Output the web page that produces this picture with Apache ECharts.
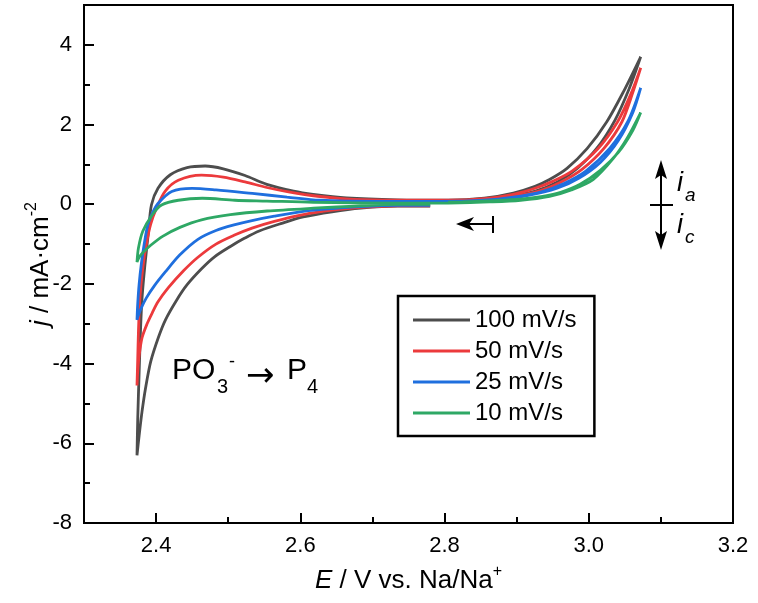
<!DOCTYPE html>
<html>
<head>
<meta charset="utf-8">
<script src="https://cdn.jsdelivr.net/npm/echarts@6/dist/echarts.min.js"></script>
<style>
html, body { margin: 0; padding: 0; background: #fff; }
#chart { width: 758px; height: 603px; }
</style>
</head>
<body>
<div id="chart"></div>
<script>
// scan rates (legend order)
const seriesNames = ['100 mV/s', '50 mV/s', '25 mV/s', '10 mV/s']
const seriesColors = ['#4d4d4d', '#ec3a3c', '#1f6fde', '#2ea865']

// CV loops in scan order: ~2.78 V -> cathodic vertex -> anodic vertex -> back
// E in V vs. Na/Na+, j in mA/cm2
const E100 = [2.780, 2.735, 2.684, 2.644, 2.604, 2.574, 2.543, 2.523, 2.503, 2.481, 2.463, 2.443, 2.428, 2.413, 2.403, 2.3925, 2.3855, 2.3805, 2.3765, 2.3735,
  2.3745, 2.3765, 2.3785, 2.3805, 2.3845, 2.3895, 2.3935, 2.4026, 2.4197, 2.4429, 2.468, 2.4932, 2.5233, 2.5535, 2.5907, 2.6178, 2.6641, 2.7345, 2.8049, 2.8551, 2.8954, 2.9255, 2.9456, 2.9698, 2.9979, 3.025, 3.048, 3.072,
  3.056, 3.036, 3.011, 2.984, 2.956, 2.926, 2.885, 2.845, 2.805]
const J100 = [-0.05, -0.05, -0.1, -0.19, -0.32, -0.48, -0.67, -0.85, -1.06, -1.32, -1.62, -2.02, -2.42, -2.9, -3.35, -3.95, -4.6, -5.2, -5.8, -6.3,
  -5.4, -4.2, -3.1, -2.35, -1.52, -0.68, -0.02, 0.4, 0.74, 0.92, 0.96, 0.89, 0.72, 0.5, 0.33, 0.25, 0.16, 0.11, 0.1, 0.15, 0.28, 0.45, 0.62, 0.9, 1.4, 2.07, 2.82, 3.7,
  2.9, 2.1, 1.4, 0.9, 0.55, 0.33, 0.18, 0.1, 0.06]

const E50 = [2.780, 2.735, 2.684, 2.644, 2.604, 2.564, 2.533, 2.508, 2.483, 2.458, 2.438, 2.4167, 2.4026, 2.3945, 2.3875, 2.3805, 2.3765, 2.3745, 2.3735,
  2.3745, 2.3755, 2.3775, 2.3815, 2.3865, 2.3925, 2.4005, 2.4127, 2.4308, 2.463, 2.4932, 2.5233, 2.5535, 2.5836, 2.6238, 2.6741, 2.7345, 2.8049, 2.8551, 2.8954, 2.9255, 2.9507, 2.9768, 3.013, 3.040, 3.058, 3.072,
  3.061, 3.046, 3.021, 2.991, 2.961, 2.931, 2.890, 2.850, 2.805]
const J50 = [-0.04, -0.04, -0.08, -0.15, -0.26, -0.43, -0.6, -0.78, -1.0, -1.33, -1.67, -2.1, -2.45, -2.73, -3.0, -3.35, -3.8, -4.2, -4.55,
  -3.9, -3.2, -2.35, -1.6, -1.0, -0.5, -0.1, 0.33, 0.6, 0.73, 0.68, 0.56, 0.42, 0.31, 0.2, 0.12, 0.1, 0.1, 0.14, 0.25, 0.4, 0.58, 0.83, 1.4, 2.07, 2.75, 3.42,
  2.8, 2.07, 1.4, 0.88, 0.55, 0.33, 0.18, 0.1, 0.06]

const E25 = [2.780, 2.735, 2.684, 2.644, 2.604, 2.564, 2.533, 2.508, 2.483, 2.458, 2.433, 2.4127, 2.3975, 2.3865, 2.3795, 2.3755, 2.3735,
  2.3745, 2.3765, 2.3795, 2.3835, 2.3885, 2.3955, 2.4026, 2.4217, 2.4499, 2.4831, 2.5334, 2.5816, 2.6269, 2.7043, 2.7948, 2.8551, 2.8954, 2.9356, 2.9657, 2.9959, 3.029, 3.054, 3.072,
  3.061, 3.041, 3.016, 2.986, 2.956, 2.916, 2.875, 2.835, 2.805]
const J25 = [-0.03, -0.03, -0.06, -0.11, -0.18, -0.3, -0.41, -0.52, -0.66, -0.88, -1.27, -1.7, -2.05, -2.35, -2.6, -2.78, -2.9,
  -2.5, -2.0, -1.5, -1.0, -0.52, -0.2, 0.02, 0.32, 0.4, 0.36, 0.27, 0.18, 0.1, 0.07, 0.07, 0.1, 0.18, 0.32, 0.52, 0.83, 1.4, 2.07, 2.92,
  2.3, 1.6, 1.05, 0.65, 0.4, 0.22, 0.12, 0.08, 0.05]

const E10 = [2.780, 2.735, 2.684, 2.618, 2.554, 2.503, 2.463, 2.433, 2.4096, 2.3925, 2.3825, 2.3765, 2.3735,
  2.3755, 2.3815, 2.3945, 2.4076, 2.4308, 2.464, 2.5092, 2.5535, 2.6178, 2.7385, 2.8049, 2.8652, 2.9054, 2.9456, 2.9758, 3.006, 3.034, 3.053, 3.072,
  3.061, 3.041, 3.016, 2.988, 2.961, 2.936, 2.905, 2.865, 2.825, 2.805]
const J10 = [0.0, 0.0, -0.04, -0.1, -0.17, -0.26, -0.39, -0.58, -0.8, -1.03, -1.2, -1.33, -1.45,
  -1.1, -0.68, -0.27, -0.02, 0.1, 0.15, 0.1, 0.08, 0.05, 0.03, 0.03, 0.06, 0.1, 0.2, 0.36, 0.62, 1.15, 1.65, 2.3,
  1.85, 1.3, 0.85, 0.5, 0.3, 0.2, 0.13, 0.09, 0.06, 0.05]

const curvesE = [E100, E50, E25, E10]
const curvesJ = [J100, J50, J25, J10]

// axis ticks
const xMajor = [2.4, 2.6, 2.8, 3.0, 3.2]
const xMinor = [2.5, 2.7, 2.9, 3.1]
const yMajor = [-8, -6, -4, -2, 0, 2, 4]
const yMinor = [-7, -5, -3, -1, 1, 3]

const font = 'Liberation Sans, Arial, Helvetica, sans-serif'

const chart = echarts.init(document.getElementById('chart'), null, { renderer: 'canvas' })

const tickStyle = { color: '#000', width: 2 }

const titleStyle = {
  fontSize: 26,
  color: '#000',
  fontFamily: font,
  lineHeight: 34,
  rich: {
    i: { fontSize: 26, fontStyle: 'italic', fontFamily: font, color: '#000', lineHeight: 34 },
    sup: { fontSize: 16, fontFamily: font, color: '#000', lineHeight: 16, verticalAlign: 'top' }
  }
}

const series = seriesNames.map((name, k) => ({
  name: name,
  type: 'line',
  data: curvesE[k].map((e, i) => [e, curvesJ[k][i]]),
  symbol: 'none',
  smooth: 0.3,
  lineStyle: { width: 2.8, color: seriesColors[k] },
  itemStyle: { color: seriesColors[k] },
  z: 2 + k
}))

const option = {
  backgroundColor: '#fff',
  animation: false,
  grid: {
    left: 84,
    right: 25,
    top: 5,
    bottom: 76,
    show: true,
    borderColor: '#000',
    borderWidth: 2,
    backgroundColor: 'transparent'
  },
  legend: {
    orient: 'vertical',
    left: 398,
    top: 296,
    backgroundColor: '#fff',
    borderColor: '#000',
    borderWidth: 2.5,
    borderRadius: 0,
    padding: [12, 18, 11, 15],
    icon: 'rect',
    itemWidth: 57,
    itemHeight: 3,
    itemGap: 7,
    textStyle: { fontSize: 24, color: '#000', fontFamily: font, lineHeight: 24 },
    data: seriesNames
  },
  xAxis: [{
    type: 'value',
    min: 2.3,
    max: 3.2,
    position: 'bottom',
    axisLine: { show: true, onZero: false, lineStyle: { color: '#000', width: 2 } },
    axisTick: { show: true, inside: true, length: 10, customValues: xMajor, lineStyle: tickStyle },
    axisLabel: {
      customValues: xMajor,
      formatter: v => v.toFixed(1),
      fontSize: 22,
      color: '#000',
      fontFamily: font,
      margin: 12
    },
    splitLine: { show: false },
    name: '{i|E} / V vs. Na/Na{sup|+}',
    nameLocation: 'middle',
    nameGap: 41,
    nameMoveOverlap: false,
    nameTextStyle: titleStyle
  }, {
    type: 'value',
    min: 2.3,
    max: 3.2,
    position: 'bottom',
    axisLine: { show: false, onZero: false },
    axisTick: { show: true, inside: true, length: 6, customValues: xMinor, lineStyle: tickStyle },
    axisLabel: { show: false },
    splitLine: { show: false }
  }],
  yAxis: [{
    type: 'value',
    min: -8,
    max: 5,
    position: 'left',
    axisLine: { show: true, onZero: false, lineStyle: { color: '#000', width: 2 } },
    axisTick: { show: true, inside: true, length: 10, customValues: yMajor, lineStyle: tickStyle },
    axisLabel: {
      customValues: yMajor,
      fontSize: 22,
      color: '#000',
      fontFamily: font,
      margin: 12
    },
    splitLine: { show: false },
    name: '{i|j} / mA·cm{sup|-2}',
    nameLocation: 'middle',
    nameGap: 26,
    nameRotate: 90,
    nameMoveOverlap: false,
    nameTextStyle: titleStyle
  }, {
    type: 'value',
    min: -8,
    max: 5,
    position: 'left',
    axisLine: { show: false, onZero: false },
    axisTick: { show: true, inside: true, length: 6, customValues: yMinor, lineStyle: tickStyle },
    axisLabel: { show: false },
    splitLine: { show: false }
  }],
  series: series,
  graphic: [
    // reaction label
    { type: 'text', left: 172, top: 356, style: { text: 'PO', font: '30px ' + font, fill: '#000' } },
    { type: 'text', left: 217, top: 377, style: { text: '3', font: '20px ' + font, fill: '#000' } },
    { type: 'text', left: 229, top: 353, style: { text: '-', font: '18px ' + font, fill: '#000' } },
    { type: 'text', left: 246, top: 360, style: { text: '→', font: '34px DejaVu Sans, sans-serif', fill: '#000' } },
    { type: 'text', left: 287, top: 356, style: { text: 'P', font: '30px ' + font, fill: '#000' } },
    { type: 'text', left: 307, top: 377, style: { text: '4', font: '20px ' + font, fill: '#000' } },
    // scan start marker
    { type: 'line', shape: { x1: 462, y1: 224, x2: 493, y2: 224 }, style: { stroke: '#000', lineWidth: 2 } },
    { type: 'line', shape: { x1: 493, y1: 216, x2: 493, y2: 233 }, style: { stroke: '#000', lineWidth: 2 } },
    { type: 'polygon', shape: { points: [[456, 224], [474, 217], [469, 224], [474, 231]] }, style: { fill: '#000' } },
    // current direction arrows
    { type: 'line', shape: { x1: 661, y1: 170, x2: 661, y2: 242 }, style: { stroke: '#000', lineWidth: 2 } },
    { type: 'line', shape: { x1: 650, y1: 205, x2: 673, y2: 205 }, style: { stroke: '#000', lineWidth: 2 } },
    { type: 'polygon', shape: { points: [[661, 160], [667, 179], [661, 175], [655, 179]] }, style: { fill: '#000' } },
    { type: 'polygon', shape: { points: [[661, 250], [667, 231], [661, 235], [655, 231]] }, style: { fill: '#000' } },
    { type: 'text', left: 677, top: 170, style: { text: 'i', font: 'italic 27px ' + font, fill: '#000' } },
    { type: 'text', left: 685, top: 186, style: { text: 'a', font: 'italic 19px ' + font, fill: '#000' } },
    { type: 'text', left: 677, top: 212, style: { text: 'i', font: 'italic 27px ' + font, fill: '#000' } },
    { type: 'text', left: 685, top: 228, style: { text: 'c', font: 'italic 19px ' + font, fill: '#000' } }
  ]
}

chart.setOption(option)
</script>
</body>
</html>
